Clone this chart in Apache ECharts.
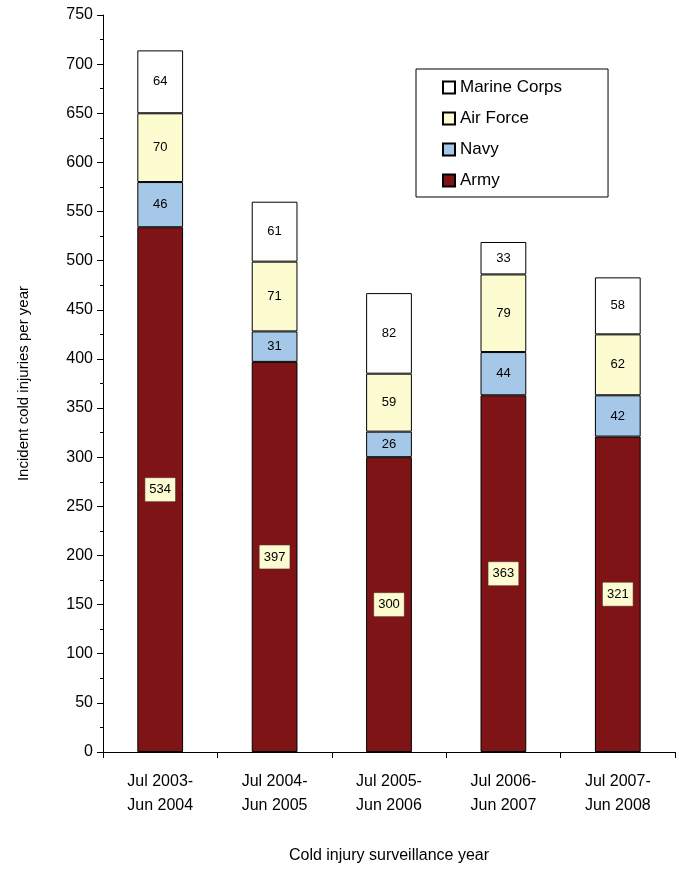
<!DOCTYPE html>
<html><head><meta charset="utf-8">
<script src="https://cdn.jsdelivr.net/npm/echarts@6/dist/echarts.min.js"></script>
<style>html,body{margin:0;background:#fff}#c{width:679px;height:869px}</style>
</head><body><div id="c"></div>
<script>
const years = ["Jul 2003-\nJun 2004", "Jul 2004-\nJun 2005", "Jul 2005-\nJun 2006", "Jul 2006-\nJun 2007", "Jul 2007-\nJun 2008"];
const army = [534, 397, 300, 363, 321];
const navy = [46, 31, 26, 44, 42];
const airForce = [70, 71, 59, 79, 62];
const marines = [64, 61, 82, 33, 58];

const chart = echarts.init(document.getElementById("c"));
const font = "Liberation Sans";
const mk = (name, data, color, armyStyle) => ({
  name, type: "bar", stack: "t", data, barWidth: "40%",
  itemStyle: { color, borderColor: "#000", borderWidth: 1 },
  label: armyStyle
    ? { show: true, color: "#000", fontFamily: font, fontSize: 13, backgroundColor: "#fdfbd0", borderColor: "#888", borderWidth: 0.5, padding: [5, 4] }
    : { show: true, color: "#000", fontFamily: font, fontSize: 13 },
});

chart.setOption({
  animation: false,
  grid: { left: 103, right: 4, top: 15, bottom: 111 },
  legend: {
    data: ["Marine Corps", "Air Force", "Navy", "Army"],
    orient: "vertical", left: 416, top: 69,
    icon: "rect",
    itemWidth: 12, itemHeight: 12, itemGap: 14,
    padding: [10, 46, 8, 26],
    borderColor: "#000", borderWidth: 1,
    textStyle: { fontFamily: font, fontSize: 17, color: "#000" },
  },
  xAxis: {
    type: "category", data: years,
    name: "Cold injury surveillance year", nameLocation: "middle", nameGap: 96,
    nameTextStyle: { fontFamily: font, fontSize: 16, color: "#000" },
    axisLine: { lineStyle: { color: "#000" } },
    axisTick: { show: true, length: 6, lineStyle: { color: "#000" } },
    axisLabel: { fontFamily: font, fontSize: 16, color: "#000", margin: 18, lineHeight: 24 },
  },
  yAxis: {
    type: "value", min: 0, max: 750, interval: 50,
    name: "Incident cold injuries per year", nameLocation: "middle", nameGap: 72,
    nameTextStyle: { fontFamily: font, fontSize: 15, color: "#000" },
    axisLine: { show: true, lineStyle: { color: "#000" } },
    axisTick: { show: true, length: 6, lineStyle: { color: "#000" } },
    minorTick: { show: true, splitNumber: 2, length: 3, lineStyle: { color: "#000" } },
    splitLine: { show: false },
    axisLabel: { fontFamily: font, fontSize: 16, color: "#000", margin: 10 },
  },
  series: [
    mk("Army", army, "#7f1416", true),
    mk("Navy", navy, "#a6c8e8"),
    mk("Air Force", airForce, "#fdfbd0"),
    mk("Marine Corps", marines, "#ffffff"),
  ],
});
</script></body></html>
